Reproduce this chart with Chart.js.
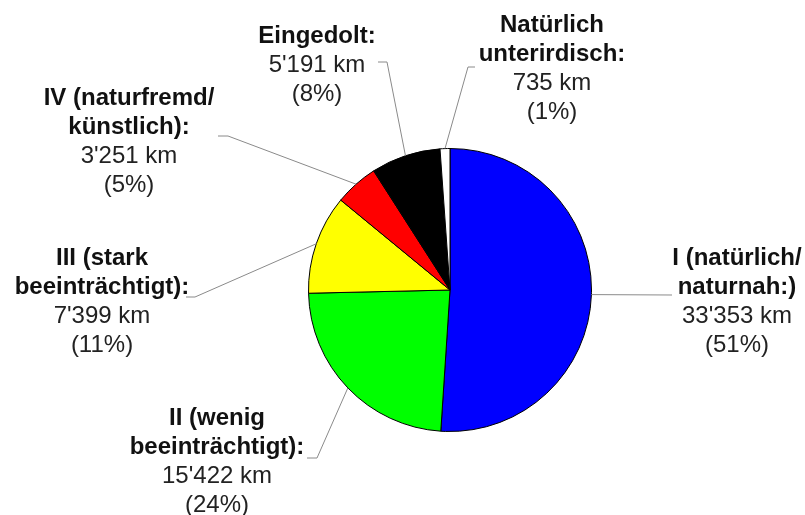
<!DOCTYPE html>
<html>
<head>
<meta charset="utf-8">
<script src="https://cdn.jsdelivr.net/npm/chart.js@4"></script>
<style>
  body { margin: 0; background: #fff; }
  #wrap { width: 805px; height: 515px; position: relative; }
</style>
</head>
<body>
<div id="wrap"><canvas id="pie"></canvas></div>
<script>
// Categories (each label split into its bold lines)
const categories = [
    ["I (natürlich/", "naturnah:)"],
    ["II (wenig", "beeinträchtigt):"],
    ["III (stark", "beeinträchtigt):"],
    ["IV (naturfremd/", "künstlich):"],
    ["Eingedolt:"],
    ["Natürlich", "unterirdisch:"]
];
// Length in km
const lengths = [33353, 15422, 7399, 3251, 5191, 735];
const colors = ["#0000ff", "#00ff00", "#ffff00", "#ff0000", "#000000", "#ffffff"];

// Where each label block sits: text centre x, first line y, leader elbow and end
const labelLayout = [
    { x: 737, y: 258, elbow: [672, 295], end: [672, 295] },
    { x: 217, y: 418, elbow: [317, 458], end: [307, 458] },
    { x: 102, y: 258, elbow: [195, 297], end: [186, 297] },
    { x: 129, y: 98,  elbow: [228, 136], end: [218, 136] },
    { x: 317, y: 36,  elbow: [387, 62],  end: [378, 62] },
    { x: 552, y: 25,  elbow: [468, 67],  end: [475, 67] }
];
const lineHeight = 29;

function formatKm(v) {
    return String(v).replace(/\B(?=(\d{3})+(?!\d))/g, "'") + " km";
}

// Draws the leader lines and the text labels
const labelPlugin = {
    id: "pieLabels",
    afterDatasetsDraw(chart) {
        const ctx = chart.ctx;
        const meta = chart.getDatasetMeta(0);
        const total = lengths.reduce((a, b) => a + b, 0);

        ctx.save();
        meta.data.forEach((arc, i) => {
            const p = arc.getProps(["x", "y", "startAngle", "endAngle", "outerRadius"], true);
            const mid = (p.startAngle + p.endAngle) / 2;
            const ex = p.x + Math.cos(mid) * p.outerRadius;
            const ey = p.y + Math.sin(mid) * p.outerRadius;
            const lay = labelLayout[i];

            ctx.strokeStyle = "#8a8a8a";
            ctx.lineWidth = 1;
            ctx.beginPath();
            ctx.moveTo(ex, ey);
            ctx.lineTo(lay.elbow[0], lay.elbow[1]);
            ctx.lineTo(lay.end[0], lay.end[1]);
            ctx.stroke();

            ctx.textAlign = "center";
            ctx.textBaseline = "middle";
            let y = lay.y;
            ctx.fillStyle = "#111";
            ctx.font = "bold 24px 'Liberation Sans', Arial, sans-serif";
            categories[i].forEach(line => {
                ctx.fillText(line, lay.x, y);
                y += lineHeight;
            });
            ctx.fillStyle = "#222";
            ctx.font = "24px 'Liberation Sans', Arial, sans-serif";
            ctx.fillText(formatKm(lengths[i]), lay.x, y);
            y += lineHeight;
            ctx.fillText("(" + Math.round(lengths[i] / total * 100) + "%)", lay.x, y);
        });
        ctx.restore();
    }
};

new Chart(document.getElementById("pie"), {
    type: "pie",
    data: {
        labels: categories.map(c => c.join(" ")),
        datasets: [{
            data: lengths,
            backgroundColor: colors,
            borderColor: "#000",
            borderWidth: 1
        }]
    },
    options: {
        responsive: true,
        maintainAspectRatio: false,
        animation: false,
        layout: {
            padding: { left: 308, right: 213, top: 148, bottom: 83 }
        },
        plugins: {
            legend: { display: false },
            tooltip: { enabled: false }
        }
    },
    plugins: [labelPlugin]
});
</script>
</body>
</html>
